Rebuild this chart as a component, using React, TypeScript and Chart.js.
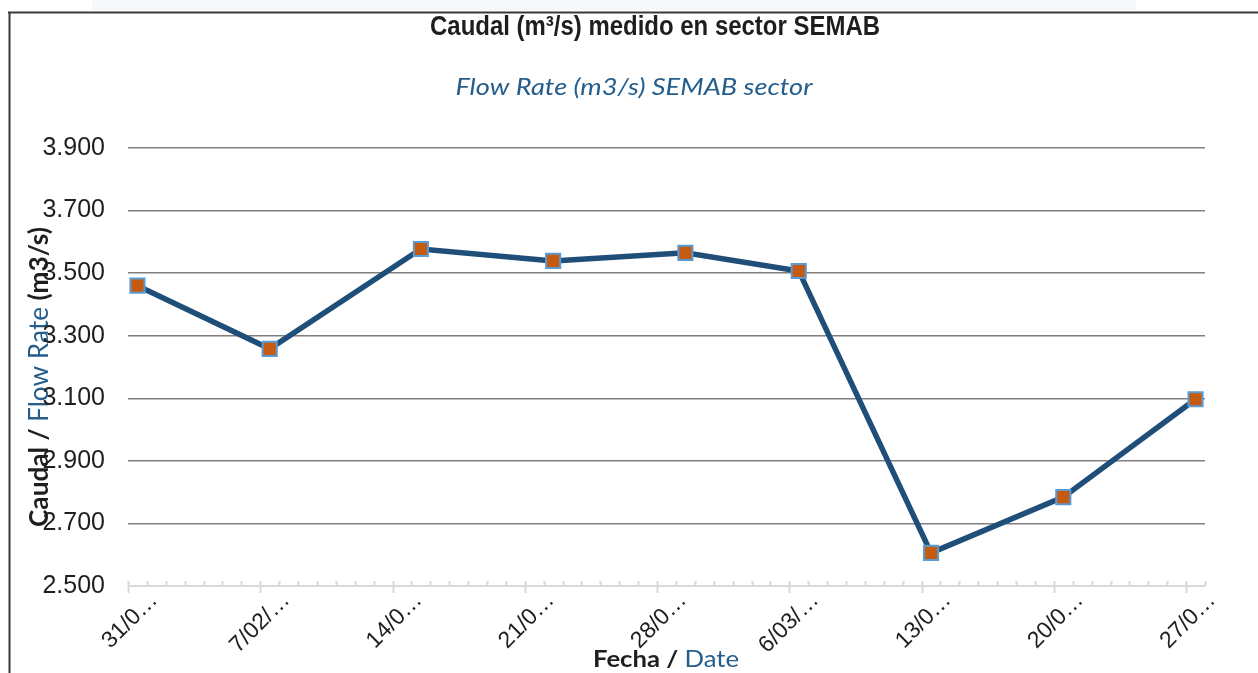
import React, { useEffect, useRef } from "react";
import { Chart, registerables } from "chart.js";

Chart.register(...registerables);

// ---- data ----
const AXIS_START = "2020-01-31";
const AXIS_END = "2020-03-28";
const sampleDates = [
  "2020-01-31", "2020-02-07", "2020-02-15", "2020-02-22", "2020-02-29",
  "2020-03-06", "2020-03-13", "2020-03-20", "2020-03-27",
];
const flowRates = [3.46, 3.258, 3.577, 3.539, 3.565, 3.507, 2.606, 2.784, 3.097];
const majorTickDates = [
  "2020-01-31", "2020-02-07", "2020-02-14", "2020-02-21", "2020-02-28",
  "2020-03-06", "2020-03-13", "2020-03-20", "2020-03-27",
];
const majorTickLabels = ["31/0…", "7/02/…", "14/0…", "21/0…", "28/0…", "6/03/…", "13/0…", "20/0…", "27/0…"];
const yMin = 2.5;
const yMax = 3.9;
const yStep = 0.2;

const titleText = "Caudal (m³/s) medido en sector SEMAB";
const subtitleText = "Flow Rate (m3/s) SEMAB sector";
const yTitleParts = ["Caudal / ", "Flow Rate", " (m3/s)"];
const xTitleParts = ["Fecha / ", "Date"];

const DAY = 86400000;
const dayIndex = (iso: string) => (Date.parse(iso) - Date.parse(AXIS_START)) / DAY;
const axisDays = dayIndex(AXIS_END);

type Seg = { text: string; font: string; color: string };

function drawFitted(
  ctx: CanvasRenderingContext2D,
  segs: Seg[],
  cx: number,
  cy: number,
  target: number,
  rotate = 0
) {
  ctx.save();
  let total = 0;
  const widths = segs.map((s) => {
    ctx.font = s.font;
    const w = ctx.measureText(s.text).width;
    total += w;
    return w;
  });
  ctx.translate(cx, cy);
  if (rotate) ctx.rotate(rotate);
  ctx.scale(target / total, 1);
  ctx.textBaseline = "alphabetic";
  ctx.textAlign = "left";
  let x = -total / 2;
  segs.forEach((s, i) => {
    ctx.font = s.font;
    ctx.fillStyle = s.color;
    ctx.fillText(s.text, x, 0);
    x += widths[i];
  });
  ctx.restore();
}

const BLUE_TEXT = "#255e8c";
const DARK = "#1e1e1e";

const decorPlugin = {
  id: "decor",
  beforeDraw(chart: any) {
    const ctx: CanvasRenderingContext2D = chart.ctx;
    ctx.save();
    ctx.fillStyle = "#ffffff";
    ctx.fillRect(0, 0, chart.width, chart.height);
    ctx.fillStyle = "#f6f8fc";
    ctx.fillRect(92, 0, 1044, 10);
    // frame
    ctx.strokeStyle = "#3a3a3a";
    ctx.lineWidth = 2;
    ctx.beginPath();
    ctx.moveTo(8, 12.5);
    ctx.lineTo(chart.width, 12.5);
    ctx.moveTo(9.5, 12);
    ctx.lineTo(9.5, chart.height);
    ctx.stroke();
    ctx.restore();

    drawFitted(ctx, [{ text: titleText, font: 'bold 28px "Liberation Sans Narrow", "Liberation Sans", Arial, sans-serif', color: DARK }], 655, 35, 450);
    drawFitted(ctx, [{ text: subtitleText, font: 'italic 24px Lato, "Open Sans", sans-serif', color: BLUE_TEXT }], 634, 95, 357);
    drawFitted(
      ctx,
      [
        { text: yTitleParts[0], font: 'bold 27px Lato, "Open Sans", sans-serif', color: DARK },
        { text: yTitleParts[1], font: '27px Lato, "Open Sans", sans-serif', color: BLUE_TEXT },
        { text: yTitleParts[2], font: 'bold 27px Lato, "Open Sans", sans-serif', color: DARK },
      ],
      48,
      377,
      300,
      -Math.PI / 2
    );
    drawFitted(
      ctx,
      [
        { text: xTitleParts[0], font: 'bold 23px Lato, "Open Sans", sans-serif', color: DARK },
        { text: xTitleParts[1], font: '23px Lato, "Open Sans", sans-serif', color: BLUE_TEXT },
      ],
      666,
      667,
      146
    );
  },
  beforeDatasetsDraw(chart: any) {
    const ctx: CanvasRenderingContext2D = chart.ctx;
    const xs = chart.scales.x;
    const ys = chart.scales.y;
    const y0 = Math.round(ys.getPixelForValue(yMin));
    ctx.save();
    ctx.strokeStyle = "#d9d9d9";
    ctx.lineWidth = 2;
    ctx.beginPath();
    ctx.moveTo(xs.getPixelForValue(0), y0);
    ctx.lineTo(xs.getPixelForValue(axisDays), y0);
    for (let d = 0; d <= axisDays; d++) {
      const px = Math.round(xs.getPixelForValue(d)) + 0.5;
      ctx.moveTo(px, y0 - 5);
      ctx.lineTo(px, y0);
    }
    majorTickDates.forEach((d) => {
      const px = Math.round(xs.getPixelForValue(dayIndex(d))) + 0.5;
      ctx.moveTo(px, y0 - 5);
      ctx.lineTo(px, y0 + 7);
    });
    ctx.stroke();
    ctx.restore();
  },
};

export default function App() {
  const ref = useRef<HTMLCanvasElement | null>(null);
  useEffect(() => {
    if (!ref.current) return;
    const chart = new Chart(ref.current, {
      type: "line",
      data: {
        datasets: [
          {
            data: sampleDates.map((d, i) => ({ x: dayIndex(d) + 0.5, y: flowRates[i] })),
            borderColor: "#1f4e79",
            borderWidth: 5.5,
            tension: 0,
            pointStyle: "rect",
            pointRadius: 10,
            pointBackgroundColor: "#c55a11",
            pointBorderColor: "#5b9bd5",
            pointBorderWidth: 2,
          },
        ],
      },
      options: {
        responsive: false,
        animation: false,
        devicePixelRatio: 1,
        layout: { padding: { top: 148, right: 53, left: 0, bottom: 0 } },
        plugins: { legend: { display: false }, title: { display: false }, tooltip: { enabled: false } },
        scales: {
          x: {
            type: "linear",
            min: 0,
            max: axisDays,
            afterBuildTicks: (scale: any) => {
              scale.ticks = majorTickDates.map((d) => ({ value: dayIndex(d) }));
            },
            afterFit: (scale: any) => {
              scale.height = 87;
            },
            grid: { display: false, drawTicks: false },
            border: { display: false },
            ticks: {
              autoSkip: false,
              maxRotation: 45,
              minRotation: 45,
              padding: 1,
              labelOffset: 26,
              color: DARK,
              font: { family: '"Liberation Sans", Arial, sans-serif', size: 23 },
              callback: (_v: any, i: number) => majorTickLabels[i],
            },
          },
          y: {
            min: yMin,
            max: yMax,
            afterFit: (scale: any) => {
              scale.width = 128;
            },
            afterBuildTicks: (scale: any) => {
              const t = [];
              for (let i = 0; i <= Math.round((yMax - yMin) / yStep); i++) t.push({ value: +(yMin + i * yStep).toFixed(3) });
              scale.ticks = t;
            },
            grid: {
              drawTicks: false,
              color: (c: any) => (c.tick && Math.abs(c.tick.value - yMin) < 1e-6 ? "rgba(0,0,0,0)" : "#7f7f7f"),
              lineWidth: 1.5,
            },
            border: { display: false },
            ticks: {
              padding: 23,
              color: DARK,
              font: { family: '"Liberation Sans", Arial, sans-serif', size: 25 },
              callback: (v: any) => Number(v).toFixed(3),
            },
          },
        },
      },
      plugins: [decorPlugin],
    } as any);
    return () => chart.destroy();
  }, []);
  return (
    <div style={{ position: "absolute", left: 0, top: 0, width: 1258, height: 673 }}>
      <canvas ref={ref} width={1258} height={673} />
    </div>
  );
}
